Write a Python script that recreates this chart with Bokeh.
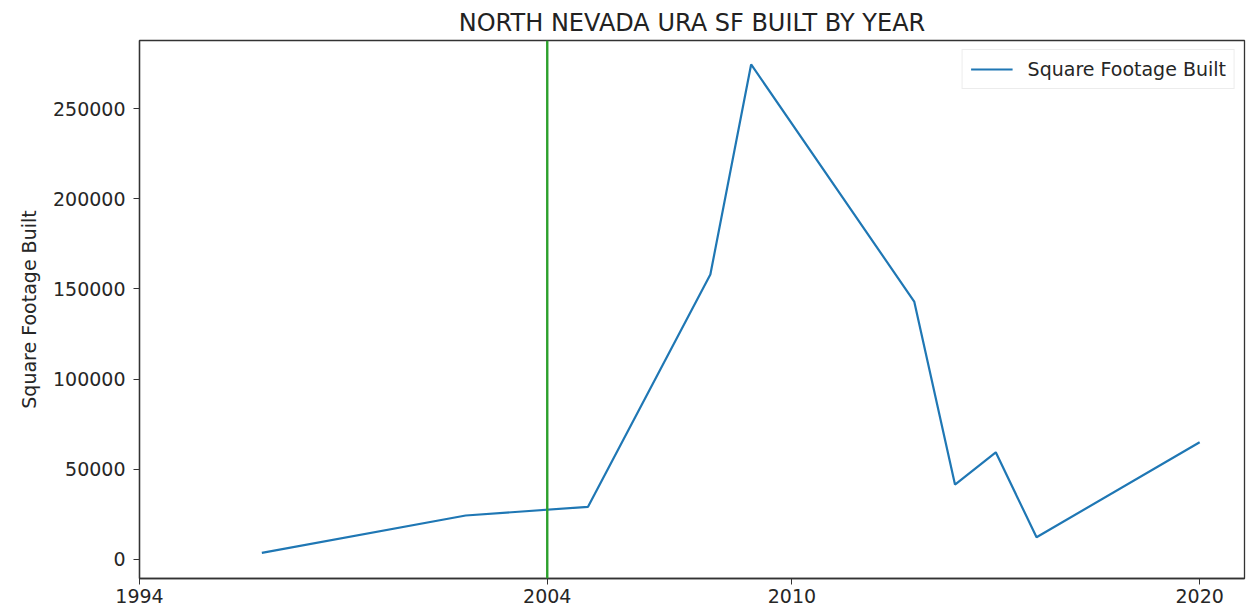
from bokeh.plotting import figure
from bokeh.models import Range1d, FixedTicker, BasicTickFormatter, Span, Legend, LegendItem
from bokeh.embed import file_html
from bokeh.resources import INLINE

years = [1997, 2002, 2005, 2008, 2009, 2013, 2014, 2015, 2016, 2020]
sqft = [3450, 24200, 29000, 158000, 274700, 143000, 41400, 59300, 12100, 64900]
x_ticks = [1994, 2004, 2010, 2020]
y_ticks = [0, 50000, 100000, 150000, 200000, 250000]
marker_year = 2004

FONT = "DejaVu Sans"

p = figure(frame_width=1105, frame_height=538, output_backend="svg", toolbar_location=None,
           x_range=Range1d(1994, 2021.1), y_range=Range1d(-10800, 288000),
           min_border_left=139, min_border_right=3, min_border_bottom=27, min_border_top=40)

p.title.text = "NORTH NEVADA URA SF BUILT BY YEAR"
p.title.align = "center"
p.title.text_font = FONT
p.title.text_font_style = "normal"
p.title.text_font_size = "24px"
p.title.text_color = "#222222"
p.title.standoff = 8

p.xgrid.visible = False
p.ygrid.visible = False
p.outline_line_color = "#333333"
p.outline_line_width = 1.3

for ax in (p.xaxis[0], p.yaxis[0]):
    ax.major_label_text_font = FONT
    ax.major_label_text_font_size = "19px"
    ax.major_label_text_color = "#262626"
    ax.axis_line_color = "#333333"
    ax.axis_line_width = 1.3
    ax.major_tick_line_color = "#333333"
    ax.major_tick_out = 6
    ax.major_tick_in = 0
    ax.minor_tick_out = 0
    ax.minor_tick_in = 0

p.xaxis[0].ticker = FixedTicker(ticks=x_ticks)
p.yaxis[0].ticker = FixedTicker(ticks=y_ticks)
p.yaxis[0].formatter = BasicTickFormatter(use_scientific=False)
p.yaxis[0].axis_label = "Square Footage Built"
p.yaxis[0].axis_label_text_font = FONT
p.yaxis[0].axis_label_text_font_style = "normal"
p.yaxis[0].axis_label_text_font_size = "19px"
p.yaxis[0].axis_label_text_color = "#262626"
p.yaxis[0].axis_label_standoff = 10
p.xaxis[0].major_label_standoff = 4
p.yaxis[0].major_label_standoff = 8

r = p.line(years, sqft, line_color="#1f77b4", line_width=2.2)

vline = Span(location=marker_year, dimension="height", line_color="#2ca02c", line_width=2.4)
p.add_layout(vline)

legend = Legend(items=[LegendItem(label="Square Footage Built", renderers=[r])],
                location="top_right")
legend.label_text_font = FONT
legend.label_text_font_size = "19px"
legend.label_text_color = "#262626"
legend.border_line_color = "#d9d9d9"
legend.border_line_width = 1
legend.glyph_width = 42
legend.label_standoff = 15
legend.padding = 8
legend.margin = 9
legend.spacing = 0
legend.background_fill_alpha = 0.8
p.add_layout(legend)

open("out.html", "w").write(file_html(p, INLINE))
